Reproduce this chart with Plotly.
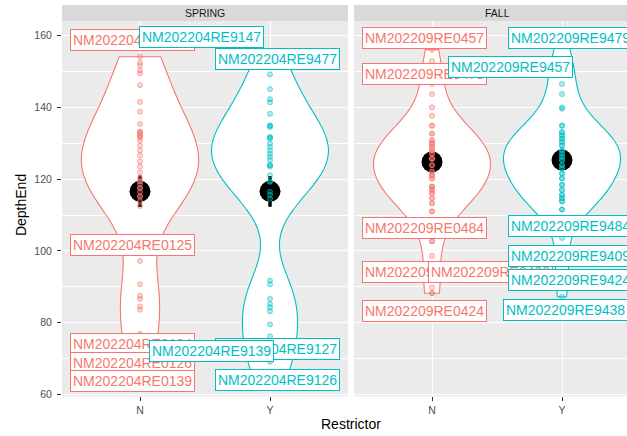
import plotly.graph_objects as go

RED = "#F8766D"
CYAN = "#00BFC4"
FONT = "Liberation Sans, Arial, sans-serif"

# ---------------- data ----------------
restrictor = ["N", "Y"]
seasons = ["SPRING", "FALL"]

spring_n_depth = [154.1, 152.5, 151.7, 150.3, 149.5, 146.2, 141.5, 138.8, 135.4, 133.2,
                  133.2, 132.7, 132.1, 132.1, 131.5, 130.7, 129.3, 128.0, 126.6, 124.9,
                  123.5, 121.9, 120.2, 119.4, 119.4, 118.6, 117.5, 117.5, 116.4, 115.2,
                  115.2, 113.9, 112.5,
                  97.2, 90.7, 87.5, 86.6, 84.5, 83.6, 76.9, 72.0, 68.0, 64.5]
spring_y_depth = [153.0, 152.0, 149.2, 145.1, 142.3, 141.4, 138.2, 134.9, 134.9, 134.5,
                  131.7, 131.7, 131.3, 129.9, 129.0, 128.0, 127.1, 126.2, 125.3, 123.9,
                  123.9, 123.5, 121.1, 119.3, 119.3, 116.5, 115.6, 114.5,
                  91.7, 90.7, 86.6, 85.2, 84.3, 83.2, 79.5, 76.2, 73.3, 71.0, 69.1, 66.0, 64.3]
fall_n_depth = [156.1, 152.9, 149.7, 146.5, 143.7, 140.0, 137.7, 134.9, 134.9, 132.7,
                132.7, 130.8, 130.8, 129.9, 129.9, 129.9, 129.0, 129.0, 128.0, 128.0,
                128.0, 127.1, 127.1, 125.7, 125.7, 125.7, 123.9, 123.9, 122.1, 122.1,
                121.1, 121.1, 121.1, 120.2, 120.2, 117.9, 117.9, 117.9, 117.0, 117.0,
                116.1, 116.1, 114.7, 114.7, 113.3, 113.3, 111.0, 111.0,
                102.7, 102.7, 98.6, 89.8, 88.2, 88.2]
fall_y_depth = [159.2, 152.9, 150.6, 149.2, 146.5, 143.7, 140.0, 139.6, 134.9, 134.9,
                133.1, 133.1, 132.2, 132.2, 131.3, 131.3, 130.4, 130.4, 129.4, 129.4,
                128.0, 128.0, 127.1, 127.1, 126.2, 126.2, 125.3, 125.3, 123.9, 123.9,
                123.0, 123.0, 121.6, 121.6, 120.2, 120.2, 118.4, 118.4, 117.0, 117.0,
                115.6, 115.6, 114.7, 114.7, 113.8, 113.8, 111.5, 111.5,
                103.6, 97.5, 93.0, 87.2]

spring_means = [116.6, 116.6]
spring_se = [4.4, 4.3]
fall_means = [124.8, 125.3]
fall_se = [2.0, 2.0]

spring_n_ids = ["NM202204RE0145", "NM202204RE0125", "NM202204RE0134", "NM202204RE0126", "NM202204RE0139"]
spring_y_ids = ["NM202204RE9147", "NM202204RE9477", "NM202204RE9127", "NM202204RE9139", "NM202204RE9126"]
fall_n_ids = ["NM202209RE0457", "NM202209RE0473", "NM202209RE0484", "NM202209RE0431", "NM202209RE0430", "NM202209RE0424"]
fall_y_ids = ["NM202209RE9479", "NM202209RE9457", "NM202209RE9484", "NM202209RE9409", "NM202209RE9424", "NM202209RE9438"]

# ---------------- styling / placement ----------------
# kernel bandwidth per violin (spring N, spring Y, fall N, fall Y)
violin_bw = {("x", "N"): 10.0, ("x", "Y"): 8.5, ("x2", "N"): 6.5, ("x2", "Y"): 6.0}

# repelled label positions: (x shift in px, y in data units)
spring_n_lab_pos = [(-8, 158.9), (-8, 101.7), (-8, 74.1), (-8, 68.8), (-8, 63.6)]
spring_y_lab_pos = [(-69, 159.7), (7, 153.6), (7, 72.7), (-59, 72.2), (7, 63.9)]
fall_n_lab_pos = [(-7, 159.4), (-7, 149.2), (-7, 106.4), (-7, 94.0), (59, 94.0), (-7, 83.2)]
fall_y_lab_pos = [(8, 159.4), (-52, 151.2), (8, 107.0), (8, 98.7), (8, 92.0), (3, 83.5)]

panels = [
    dict(xa="x", ya="y", groups=[("N", spring_n_depth, RED), ("Y", spring_y_depth, CYAN)],
         means=spring_means, se=spring_se,
         labels=[("N", spring_n_ids, spring_n_lab_pos, RED), ("Y", spring_y_ids, spring_y_lab_pos, CYAN)]),
    dict(xa="x2", ya="y2", groups=[("N", fall_n_depth, RED), ("Y", fall_y_depth, CYAN)],
         means=fall_means, se=fall_se,
         labels=[("N", fall_n_ids, fall_n_lab_pos, RED), ("Y", fall_y_ids, fall_y_lab_pos, CYAN)]),
]


def rgba(hexc, a):
    h = hexc.lstrip("#")
    return "rgba(%d,%d,%d,%.2f)" % (int(h[0:2], 16), int(h[2:4], 16), int(h[4:6], 16), a)


fig = go.Figure()
annotations = []
for p in panels:
    for cat, vals, col in p["groups"]:
        fig.add_trace(go.Violin(
            x=[cat] * len(vals), y=vals, xaxis=p["xa"], yaxis=p["ya"],
            width=0.9, scalemode="width", spanmode="hard", points=False,
            bandwidth=violin_bw[(p["xa"], cat)],
            fillcolor="white", line=dict(color=col, width=1.1),
            hoverinfo="skip", showlegend=False))
    fig.add_trace(go.Scatter(
        x=restrictor, y=p["means"], xaxis=p["xa"], yaxis=p["ya"], mode="markers",
        marker=dict(size=21, color="black"),
        error_y=dict(type="data", array=p["se"], width=0, thickness=3.5, color="black"),
        showlegend=False))
    for cat, vals, col in p["groups"]:
        fig.add_trace(go.Scatter(
            x=[cat] * len(vals), y=vals, xaxis=p["xa"], yaxis=p["ya"], mode="markers",
            marker=dict(size=5, color=rgba(col, 0.3), line=dict(color=rgba(col, 0.55), width=1)),
            showlegend=False))
    for cat, ids, pos, col in p["labels"]:
        for lab, (dx, yv) in zip(ids, pos):
            annotations.append(dict(
                x=cat, y=yv, xref=p["xa"], yref=p["ya"], xshift=dx, text=lab, showarrow=False,
                font=dict(family=FONT, size=14, color=col), bgcolor="white",
                bordercolor=col, borderwidth=1, borderpad=2, xanchor="center", yanchor="middle"))

X1 = [62 / 627, 348 / 627]
X2 = [354 / 627, 1.0]
YD = [(436 - 400) / 436, (436 - 21.5) / 436]
STRIP = [YD[1], (436 - 5) / 436]

axis_common = dict(type="category", categoryorder="array", categoryarray=restrictor,
                   showgrid=True, gridcolor="white", gridwidth=1.1, zeroline=False, showline=False,
                   ticks="outside", ticklen=4, tickwidth=1, tickcolor="#333333",
                   tickfont=dict(family=FONT, size=10.5, color="#4D4D4D"), fixedrange=True)
yticks = [60, 80, 100, 120, 140, 160]
yminor = dict(tickvals=[70, 90, 110, 130, 150], showgrid=True, gridcolor="white", gridwidth=0.5, ticks="")

fig.update_layout(
    width=627, height=436, autosize=False,
    margin=dict(l=0, r=0, t=0, b=0),
    paper_bgcolor="white", plot_bgcolor="#EBEBEB",
    violinmode="overlay",
    font=dict(family=FONT),
    xaxis=dict(domain=X1, range=[-0.6, 1.6], anchor="y", **axis_common),
    xaxis2=dict(domain=X2, range=[-0.6, 1.5], anchor="y2", **axis_common),
    yaxis=dict(domain=YD, range=[59.45, 164.0], anchor="x", tickvals=yticks,
               showgrid=True, gridcolor="white", gridwidth=1.1, zeroline=False, showline=False,
               ticks="outside", ticklen=4, tickcolor="#333333", ticklabelstandoff=3,
               tickfont=dict(family=FONT, size=10.5, color="#4D4D4D"), minor=yminor),
    yaxis2=dict(domain=YD, range=[59.45, 164.0], anchor="x2", tickvals=yticks, matches="y",
                showgrid=True, gridcolor="white", gridwidth=1.1, zeroline=False, showline=False,
                showticklabels=False, ticks="", minor=yminor),
    shapes=[
        dict(type="rect", xref="paper", yref="paper", x0=X1[0], x1=X1[1], y0=STRIP[0], y1=STRIP[1],
             fillcolor="#D9D9D9", line=dict(width=0), layer="below"),
        dict(type="rect", xref="paper", yref="paper", x0=X2[0], x1=X2[1] + 0.02, y0=STRIP[0], y1=STRIP[1],
             fillcolor="#D9D9D9", line=dict(width=0), layer="below"),
    ],
)

annotations += [
    dict(x=(X1[0] + X1[1]) / 2, y=(STRIP[0] + STRIP[1]) / 2, xref="paper", yref="paper", text=seasons[0],
         xanchor="center", yanchor="middle",
         showarrow=False, font=dict(family=FONT, size=10.5, color="#1A1A1A")),
    dict(x=497 / 627, y=(STRIP[0] + STRIP[1]) / 2, xref="paper", yref="paper", text=seasons[1],
         xanchor="center", yanchor="middle",
         showarrow=False, font=dict(family=FONT, size=10.5, color="#1A1A1A")),
    dict(x=21 / 627, y=(436 - 207) / 436, xref="paper", yref="paper", text="DepthEnd", textangle=-90,
         xanchor="center", yanchor="middle",
         showarrow=False, font=dict(family=FONT, size=14, color="black")),
    dict(x=351 / 627, y=(436 - 428) / 436, xref="paper", yref="paper", text="Restrictor",
         xanchor="center", yanchor="middle",
         showarrow=False, font=dict(family=FONT, size=14, color="black")),
]
fig.update_layout(annotations=annotations)

fig.write_html("out.html")
